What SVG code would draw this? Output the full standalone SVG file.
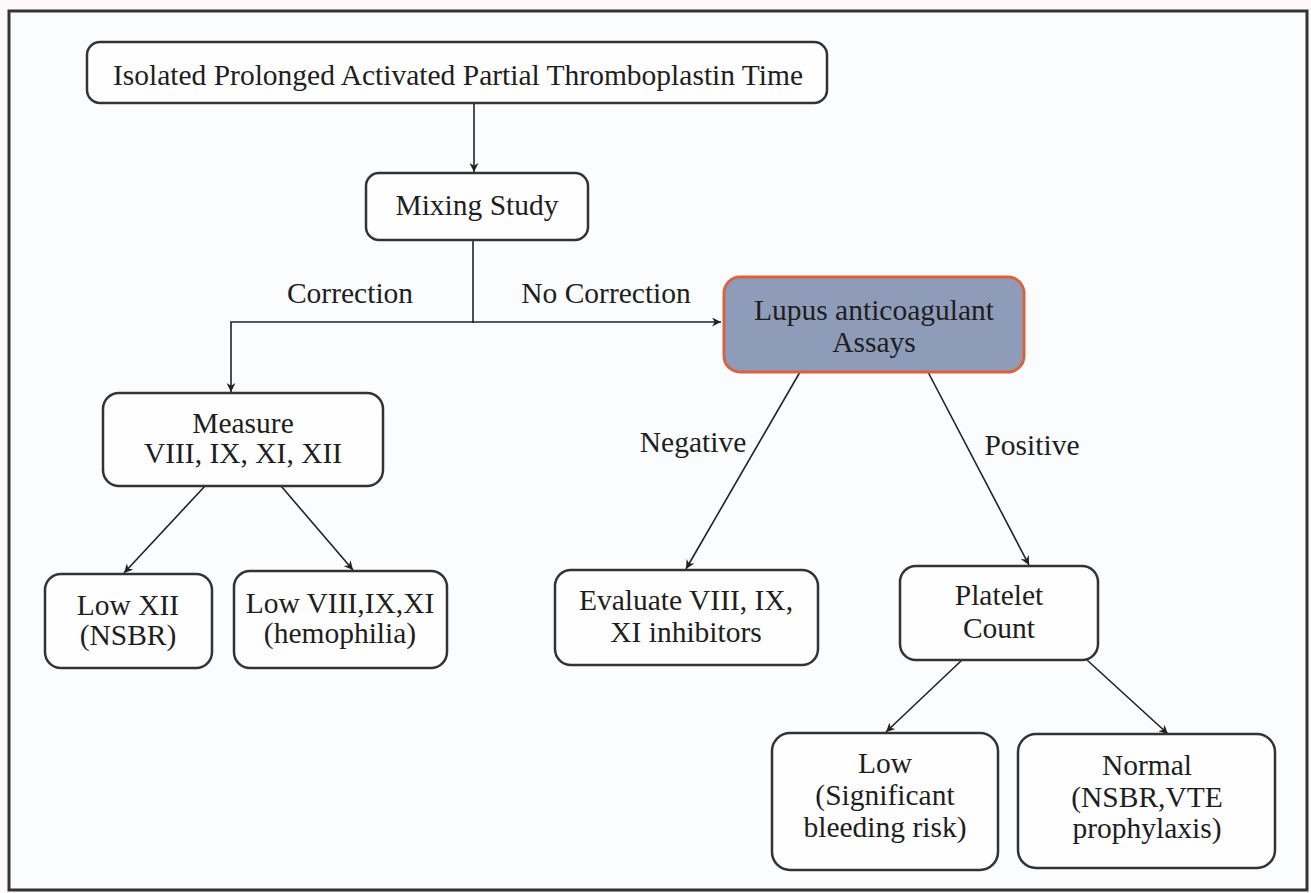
<svg xmlns="http://www.w3.org/2000/svg" width="1311" height="893" viewBox="0 0 1311 893">
<style>
.box{fill:#fefefe;stroke:#333;stroke-width:2.5}
.lupus{fill:#8e9cb9;stroke:#d8633f;stroke-width:3}
.t{font-family:'Liberation Serif','Nimbus Roman','Times',serif;font-size:29.5px;fill:#1e1e1e;text-anchor:middle}
.ln{fill:none;stroke:#222;stroke-width:1.6}
</style>
<defs>
<marker id="ah" viewBox="0 0 10 10" refX="10" refY="5" markerWidth="9" markerHeight="9" markerUnits="userSpaceOnUse" orient="auto">
<path d="M0,0 L10,5 L0,10 L3,5 z" fill="#222"/>
</marker>
</defs>
<rect x="0" y="0" width="1311" height="893" fill="#fdf9f8"/>
<rect x="9" y="11" width="1298" height="879" fill="#fbfcfe" stroke="#333" stroke-width="3"/>
<g id="connectors">
<line class="ln" x1="474" y1="103" x2="474" y2="172" marker-end="url(#ah)"/>
<line class="ln" x1="473" y1="241" x2="473" y2="323"/>
<polyline class="ln" points="473,322 231,322 231,392" marker-end="url(#ah)"/>
<line class="ln" x1="473" y1="322" x2="721" y2="322" marker-end="url(#ah)"/>
<line class="ln" x1="800" y1="372" x2="686" y2="569" marker-end="url(#ah)"/>
<line class="ln" x1="928" y1="372" x2="1029" y2="565" marker-end="url(#ah)"/>
<line class="ln" x1="205" y1="486" x2="124" y2="573" marker-end="url(#ah)"/>
<line class="ln" x1="281" y1="486" x2="353" y2="570" marker-end="url(#ah)"/>
<line class="ln" x1="962" y1="660" x2="886" y2="732" marker-end="url(#ah)"/>
<line class="ln" x1="1087" y1="660" x2="1168" y2="734" marker-end="url(#ah)"/>
<text class="t" x="350" y="303">Correction</text>
<text class="t" x="606" y="303">No Correction</text>
<text class="t" x="693" y="452">Negative</text>
<text class="t" x="1032" y="455">Positive</text>
</g>
<g id="n-aptt"><rect class="box" x="87" y="42" width="740" height="61" rx="13"/><text class="t" x="458" y="85">Isolated Prolonged Activated Partial Thromboplastin Time</text></g>
<g id="n-mixing"><rect class="box" x="366" y="173" width="222" height="67" rx="13"/><text class="t" x="477" y="215">Mixing Study</text></g>
<g id="n-lupus"><rect class="lupus" x="724" y="277" width="300" height="95" rx="16"/><text class="t" x="874" y="320">Lupus anticoagulant</text><text class="t" x="874" y="352">Assays</text></g>
<g id="n-measure"><rect class="box" x="103" y="393" width="280" height="93" rx="16"/><text class="t" x="243" y="433">Measure</text><text class="t" x="243" y="463">VIII, IX, XI, XII</text></g>
<g id="n-lowxii"><rect class="box" x="45" y="574" width="167" height="94" rx="16"/><text class="t" x="128" y="615">Low XII</text><text class="t" x="128" y="645">(NSBR)</text></g>
<g id="n-lowviii"><rect class="box" x="234" y="571" width="213" height="97" rx="16"/><text class="t" x="340" y="613">Low VIII,IX,XI</text><text class="t" x="340" y="643">(hemophilia)</text></g>
<g id="n-evaluate"><rect class="box" x="555" y="570" width="263" height="95" rx="16"/><text class="t" x="686" y="610">Evaluate VIII, IX,</text><text class="t" x="686" y="642">XI inhibitors</text></g>
<g id="n-platelet"><rect class="box" x="900" y="566" width="198" height="94" rx="16"/><text class="t" x="999" y="605">Platelet</text><text class="t" x="999" y="638">Count</text></g>
<g id="n-low"><rect class="box" x="772" y="733" width="226" height="137" rx="18"/><text class="t" x="885" y="773">Low</text><text class="t" x="885" y="805">(Significant</text><text class="t" x="885" y="837">bleeding risk)</text></g>
<g id="n-normal"><rect class="box" x="1018" y="734" width="257" height="134" rx="18"/><text class="t" x="1147" y="775">Normal</text><text class="t" x="1147" y="807">(NSBR,VTE</text><text class="t" x="1147" y="838">prophylaxis)</text></g>
</svg>
